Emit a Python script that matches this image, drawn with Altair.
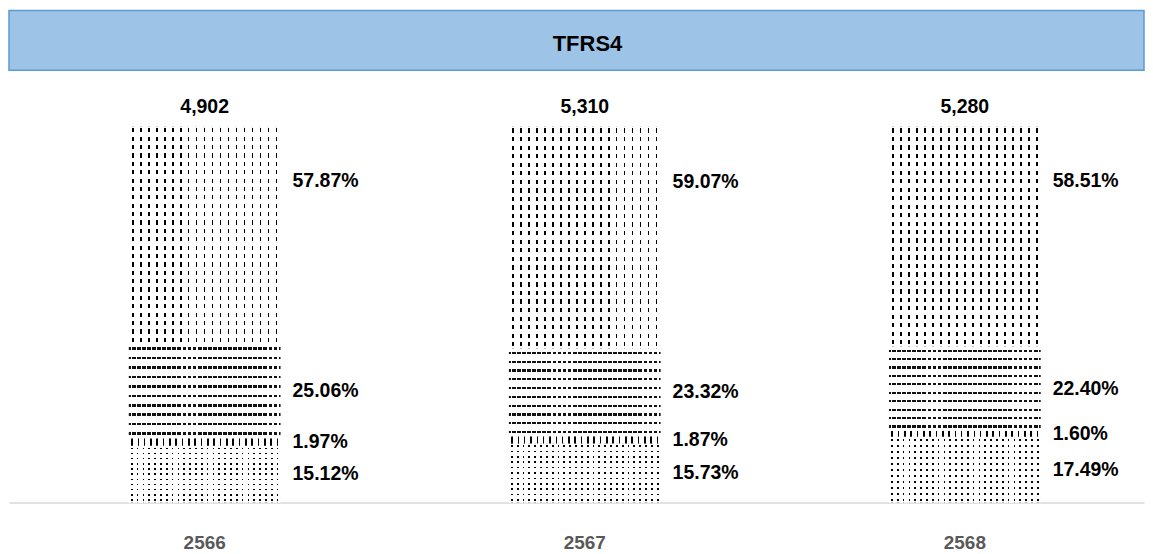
import altair as alt
import pandas as pd

# ---------------- data ----------------
years = ["2566", "2567", "2568"]
totals = [4902, 5310, 5280]
share_dots = [15.12, 15.73, 17.49]   # bottom segment
share_curl = [1.97, 1.87, 1.60]
share_wave = [25.06, 23.32, 22.40]
share_dash = [57.87, 59.07, 58.51]   # top segment
segments = ["s1", "s2", "s3", "s4"]
title_text = ["TFRS4"]

FONT = "Liberation Sans"
W = 1137

rows = []
for i, yr in enumerate(years):
    start = 0.0
    for k, (seg, vals) in enumerate(zip(segments, [share_dots, share_curl, share_wave, share_dash])):
        v = vals[i]
        end = start + v
        frac = 0.75 if k == 3 else 0.5
        rows.append(dict(year=yr, seg=seg, start=start, end=end,
                         pos=start + v * frac, label=f"{v:.2f}%", total=totals[i]))
        start = end
df = pd.DataFrame(rows)

CLEAR = "rgba(255,255,255,0)"


def stripes(n, duty, along_x, on, off):
    stops = [{"offset": 0, "color": off}]
    for i in range(n):
        a = round((i + (1 - duty) / 2) / n, 5)
        b = round((i + (1 + duty) / 2) / n, 5)
        stops += [{"offset": a, "color": off}, {"offset": a, "color": on},
                  {"offset": b, "color": on}, {"offset": b, "color": off}]
    stops.append({"offset": 1, "color": off})
    return {"gradient": "linear", "x1": 0, "y1": 0,
            "x2": 1 if along_x else 0, "y2": 0 if along_x else 1, "stops": stops}


x_scale = alt.Scale(paddingInner=0.6008, paddingOuter=0.2935, align=0.537)
x_enc = alt.X(
    "year:N",
    sort=years,
    scale=x_scale,
    axis=alt.Axis(title=None, labelAngle=0, ticks=False, grid=False,
                  domainColor="#d9d9d9", domainWidth=1.5,
                  labelFont=FONT, labelFontSize=19, labelFontWeight="bold",
                  labelColor="#595959", labelPadding=31),
)
y_enc = alt.Y("start:Q", scale=alt.Scale(domain=[0, 100]), axis=None)

base = alt.Chart(df)


def seg_layer(seg, fill):
    return (base.transform_filter(alt.datum.seg == seg)
            .mark_bar(fill=fill, strokeWidth=0)
            .encode(x=x_enc, y=y_enc, y2="end:Q"))


layers = [
    # bottom: dotted
    seg_layer("s1", stripes(26, 0.3, True, "black", "white")),
    seg_layer("s1", stripes(11, 0.3, False, CLEAR, "white")),
    # thin curly band
    seg_layer("s2", stripes(24, 0.25, True, "black", "white")),
    # wavy lines
    seg_layer("s3", stripes(10, 0.26, False, "#111111", "white")),
    seg_layer("s3", stripes(30, 0.25, True, "white", CLEAR)),
    # top: dashed vertical lines
    seg_layer("s4", stripes(19, 0.2, True, "black", "white")),
    seg_layer("s4", stripes(26, 0.5, False, CLEAR, "white")),
]

pct_labels = base.mark_text(
    align="left", baseline="middle", dx=12, font=FONT, fontSize=19.5,
    fontWeight="bold", color="black"
).encode(
    x=alt.X("year:N", sort=years, bandPosition=1, scale=x_scale),
    y=alt.Y("pos:Q", scale=alt.Scale(domain=[0, 100]), axis=None),
    text="label:N",
)

total_labels = base.transform_filter(alt.datum.seg == "s4").mark_text(
    align="center", baseline="alphabetic", dy=-13, font=FONT, fontSize=19.5,
    fontWeight="bold", color="black"
).encode(
    x=x_enc,
    y=alt.Y("end:Q", scale=alt.Scale(domain=[0, 100]), axis=None),
    text=alt.Text("total:Q", format=","),
)

main = alt.layer(*layers, pct_labels, total_labels).properties(width=W, height=377)

band = alt.Chart(pd.DataFrame({"title": title_text})).mark_text(
    font=FONT, fontSize=22, fontWeight="bold", color="black", baseline="middle", align="center"
).encode(
    text="title:N", x=alt.value(579.5), y=alt.value(34)
).properties(
    width=W, height=60,
    view=alt.ViewBackground(fill="#9DC3E6", stroke="#5B9BD5", strokeWidth=1.5),
)

chart = alt.vconcat(band, main, spacing=56, bounds="flush").properties(
    padding={"left": 0, "top": 1, "right": 0, "bottom": 0}
).configure_view(stroke="transparent")

chart.save("out.html", embed_options={"renderer": "svg", "actions": False})
